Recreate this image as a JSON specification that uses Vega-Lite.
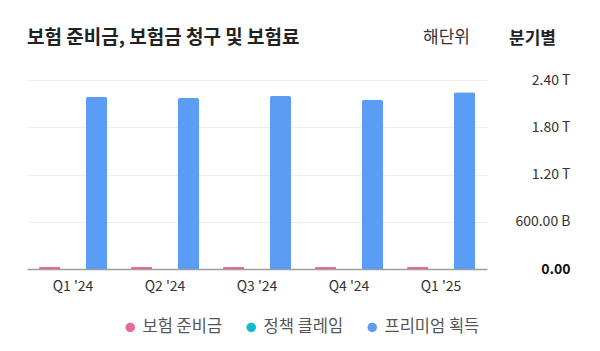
{
  "$schema": "https://vega.github.io/schema/vega-lite/v6.json",
  "autosize": "none",
  "width": 460,
  "height": 189,
  "padding": {"left": 27, "top": 80, "right": 113, "bottom": 82},
  "background": "white",
  "config": {
    "font": "Noto Sans CJK KR",
    "view": {"stroke": null}
  },
  "title": {
    "text": "보험 준비금, 보험금 청구 및 보험료",
    "anchor": "start",
    "fontSize": 19,
    "fontWeight": "bold",
    "color": "#222222",
    "offset": 0,
    "dy": 20,
    "font": "Noto Sans CJK KR"
  },
  "data": {
    "values": [
      {"quarter": "Q1 '24", "series": "보험 준비금", "value": 25},
      {"quarter": "Q1 '24", "series": "정책 클레임", "value": 0},
      {"quarter": "Q1 '24", "series": "프리미엄 획득", "value": 2185},
      {"quarter": "Q2 '24", "series": "보험 준비금", "value": 25},
      {"quarter": "Q2 '24", "series": "정책 클레임", "value": 0},
      {"quarter": "Q2 '24", "series": "프리미엄 획득", "value": 2172},
      {"quarter": "Q3 '24", "series": "보험 준비금", "value": 25},
      {"quarter": "Q3 '24", "series": "정책 클레임", "value": 0},
      {"quarter": "Q3 '24", "series": "프리미엄 획득", "value": 2196},
      {"quarter": "Q4 '24", "series": "보험 준비금", "value": 25},
      {"quarter": "Q4 '24", "series": "정책 클레임", "value": 0},
      {"quarter": "Q4 '24", "series": "프리미엄 획득", "value": 2145},
      {"quarter": "Q1 '25", "series": "보험 준비금", "value": 25},
      {"quarter": "Q1 '25", "series": "정책 클레임", "value": 0},
      {"quarter": "Q1 '25", "series": "프리미엄 획득", "value": 2245}
    ]
  },
  "mark": {"type": "bar", "cornerRadiusTopLeft": 2, "cornerRadiusTopRight": 2},
  "encoding": {
    "x": {
      "field": "quarter",
      "type": "nominal",
      "sort": null,
      "scale": {"paddingInner": 0.26, "paddingOuter": 0.13},
      "axis": {
        "title": "해단위",
        "titleX": 419,
        "titleY": -232,
        "titleAlign": "center",
        "titleBaseline": "middle",
        "titleFontSize": 17,
        "titleFontWeight": "normal",
        "titleColor": "#333333",
        "labelAngle": 0,
        "labelFontSize": 14,
        "labelColor": "#333333",
        "labelPadding": 10,
        "ticks": false,
        "domainColor": "#9e9e9e",
        "domainWidth": 1.5,
        "labelFont": "Noto Sans CJK KR"
      }
    },
    "xOffset": {
      "field": "series",
      "type": "nominal",
      "sort": ["보험 준비금", "정책 클레임", "프리미엄 획득"],
      "scale": {"paddingInner": 0.1, "paddingOuter": 0}
    },
    "y": {
      "field": "value",
      "type": "quantitative",
      "scale": {"domain": [0, 2400]},
      "axis": {
        "orient": "right",
        "title": "분기별",
        "titleAngle": 0,
        "titleX": 45,
        "titleY": -42,
        "titleAlign": "center",
        "titleBaseline": "middle",
        "titleFontSize": 17,
        "titleFontWeight": "bold",
        "titleColor": "#222222",
        "values": [0, 600, 1200, 1800, 2400],
        "labelExpr": "datum.value == 0 ? '0.00' : (datum.value >= 1000 ? format(datum.value / 1000, '.2f') + ' T' : format(datum.value, '.2f') + ' B')",
        "labelAlign": "right",
        "labelBaseline": "middle",
        "labelPadding": 83,
        "labelFontSize": 14,
        "labelColor": {"condition": {"test": "datum.value == 0", "value": "#111111"}, "value": "#333333"},
        "labelFontWeight": {"condition": {"test": "datum.value == 0", "value": "bold"}, "value": "normal"},
        "domain": false,
        "ticks": false,
        "gridColor": "#eeeeee",
        "gridWidth": 1
      }
    },
    "color": {
      "field": "series",
      "type": "nominal",
      "sort": ["보험 준비금", "정책 클레임", "프리미엄 획득"],
      "scale": {
        "domain": ["보험 준비금", "정책 클레임", "프리미엄 획득"],
        "range": ["#e8699a", "#12b8cc", "#5b9cf4"]
      },
      "legend": {
        "orient": "none",
        "legendX": 95,
        "legendY": 239,
        "direction": "horizontal",
        "title": null,
        "symbolType": "circle",
        "symbolSize": 90,
        "labelOffset": 4,
        "labelFontSize": 16.5,
        "labelColor": "#555555",
        "columnPadding": 20,
        "labelFont": "Noto Sans CJK KR"
      }
    }
  }
}
